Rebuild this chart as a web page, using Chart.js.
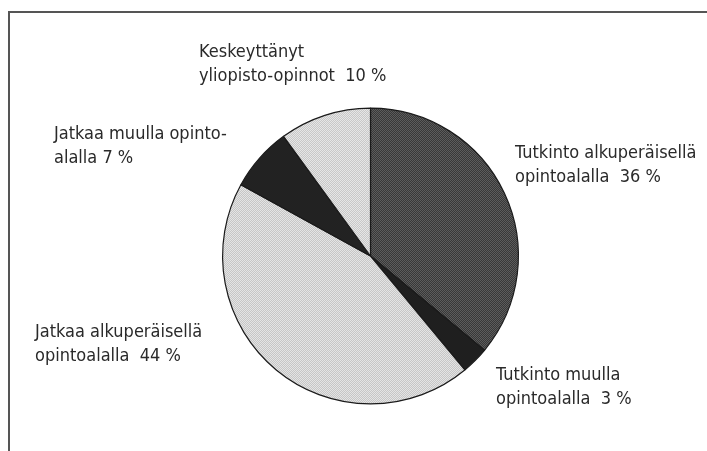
<!DOCTYPE html>
<html lang="fi">
<head>
    <meta charset="UTF-8">
    <title>Opintojen tilanne</title>
    <style>
        body {
            margin: 0;
            padding: 0;
            background: #fff;
        }
        #wrap {
            position: relative;
            width: 707px;
            height: 451px;
            overflow: hidden;
        }
        #frame {
            position: absolute;
            left: 8px;
            top: 11px;
            width: 720px;
            height: 460px;
            border-top: 2px solid #555;
            border-left: 2px solid #555;
        }
        #pieChart {
            position: absolute;
            left: 0;
            top: 0;
        }
    </style>
</head>
<body>
    <div id="wrap">
        <div id="frame"></div>
        <canvas id="pieChart" width="707" height="451"></canvas>
    </div>
    <script src="https://cdn.jsdelivr.net/npm/chart.js@4.4.0/dist/chart.umd.min.js"></script>
    <script>
        // data
        const categories = [
            'Tutkinto alkuperäisellä opintoalalla',
            'Tutkinto muulla opintoalalla',
            'Jatkaa alkuperäisellä opintoalalla',
            'Jatkaa muulla opintoalalla',
            'Keskeyttänyt yliopisto-opinnot'
        ];
        const shares = [36, 3, 44, 7, 10];
        // label text split the way it is printed; the share is appended to the last line
        const labelLines = [
            ['Tutkinto alkuperäisellä', 'opintoalalla  '],
            ['Tutkinto muulla', 'opintoalalla  '],
            ['Jatkaa alkuperäisellä', 'opintoalalla  '],
            ['Jatkaa muulla opinto-', 'alalla '],
            ['Keskeyttänyt', 'yliopisto-opinnot  ']
        ];

        // label placement (x, first baseline)
        const labelPos = [[515, 158], [496, 380], [35, 337], [54, 139], [199, 57]];
        const lineGap = 24;

        function dither(c1, c2) {
            const p = document.createElement('canvas');
            p.width = 2;
            p.height = 2;
            const g = p.getContext('2d');
            g.fillStyle = c1;
            g.fillRect(0, 0, 2, 2);
            g.fillStyle = c2;
            g.fillRect(0, 0, 1, 1);
            g.fillRect(1, 1, 1, 1);
            return document.getElementById('pieChart').getContext('2d').createPattern(p, 'repeat');
        }

        const fills = [
            dither('#383838', '#5c5c5c'),
            '#1f1f1f',
            dither('#c6c6c6', '#e4e4e4'),
            '#222222',
            dither('#c8c8c8', '#e6e6e6')
        ];

        const labelPlugin = {
            id: 'sliceLabels',
            afterDraw(chart) {
                const ctx = chart.ctx;
                ctx.save();
                ctx.font = '18px "DejaVu Sans Condensed", "Liberation Sans Narrow", sans-serif';
                ctx.fillStyle = '#2a2a2a';
                ctx.textAlign = 'left';
                ctx.textBaseline = 'alphabetic';
                labelLines.forEach((lines, i) => {
                    const [x, y] = labelPos[i];
                    ctx.fillText(lines[0], x, y);
                    ctx.fillText(lines[1] + shares[i] + ' %', x, y + lineGap);
                });
                ctx.restore();
            }
        };

        new Chart(document.getElementById('pieChart'), {
            type: 'pie',
            data: {
                labels: categories,
                datasets: [{
                    data: shares,
                    backgroundColor: fills,
                    borderColor: '#1a1a1a',
                    borderWidth: 1.2
                }]
            },
            options: {
                responsive: false,
                animation: false,
                layout: {
                    padding: { left: 222, right: 188, top: 107, bottom: 46 }
                },
                plugins: {
                    legend: { display: false },
                    tooltip: { enabled: false }
                }
            },
            plugins: [labelPlugin]
        });
    </script>
</body>
</html>
